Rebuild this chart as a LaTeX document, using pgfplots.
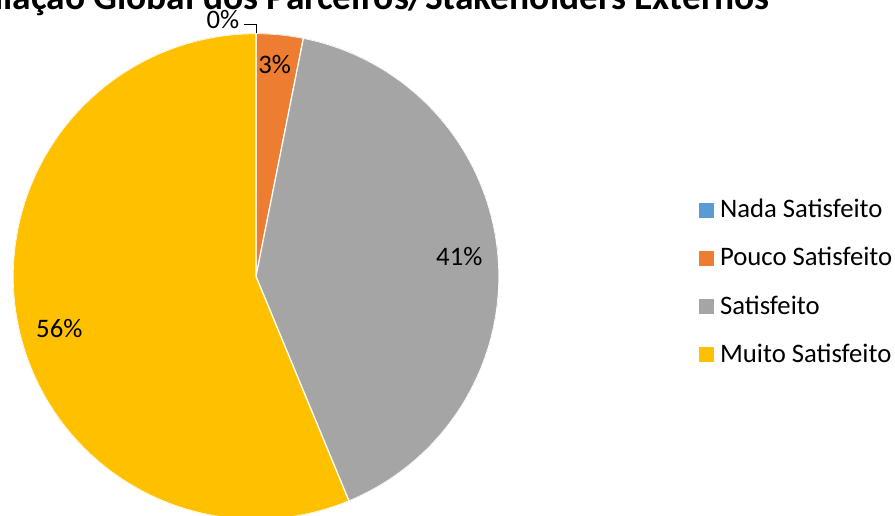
\documentclass[border=0pt]{standalone}
\usepackage{pgfplots}
\pgfplotsset{compat=1.18}
\usepgfplotslibrary{polar}
\usepackage{fontspec}
\setmainfont{Carlito}
\definecolor{cNada}{HTML}{5B9BD5}
\definecolor{cPouco}{HTML}{ED7D31}
\definecolor{cSat}{HTML}{A5A5A5}
\definecolor{cMuito}{HTML}{FFC000}
\begin{document}
\begin{tikzpicture}[x=0.5bp,y=0.5bp]
\useasboundingbox (0,0) rectangle (895,516);
\clip (0,0) rectangle (895,516);
% data (percent of answers)
\def\vNada{0}
\def\vPouco{3.125}
\def\vSat{40.625}
\def\vMuito{56.25}
\pgfmathsetmacro\aA{90-3.6*\vNada}
\pgfmathsetmacro\aB{\aA-3.6*\vPouco}
\pgfmathsetmacro\aC{\aB-3.6*\vSat}
\pgfmathsetmacro\aD{\aC-3.6*\vMuito}
\begin{polaraxis}[at={(128bp,119.75bp)}, anchor=center, scale only axis,
  width=243bp, height=243bp, hide axis, ymin=0, ymax=1, xmin=0, xmax=360]
\addplot[fill=cPouco, draw=white, line width=0.6bp, domain=\aB:\aA, samples=20] {1} -- (axis cs:0,0) -- cycle;
\addplot[fill=cSat, draw=white, line width=0.6bp, domain=\aC:\aB, samples=120] {1} -- (axis cs:0,0) -- cycle;
\addplot[fill=cMuito, draw=white, line width=0.6bp, domain=\aD:\aC, samples=150] {1} -- (axis cs:0,0) -- cycle;
\end{polaraxis}
% title
\node[anchor=base east, inner sep=0, font=\bfseries\fontsize{18.8pt}{22pt}\selectfont] at (770,506.5) {Avaliação Global dos Parceiros/Stakeholders Externos};
% data labels
\begin{scope}[every node/.style={inner sep=0, font=\fontsize{13.4pt}{16pt}\selectfont}]
\node at (223,496.7) {0\%};
\draw[line width=0.5bp] (244,491) -- (256,491) -- (256,482.5);
\node at (274.6,451.7) {3\%};
\node at (459.3,259.3) {41\%};
\node at (59.3,187.7) {56\%};
% legend
\fill[cNada] (699,298.3) rectangle (714,313.3);
\node[anchor=base west] at (719.7,298.3) {Nada Satisfeito};
\fill[cPouco] (699,250.1) rectangle (714,265.1);
\node[anchor=base west] at (719.7,250.1) {Pouco Satisfeito};
\fill[cSat] (699,201.9) rectangle (714,216.9);
\node[anchor=base west] at (719.7,201.9) {Satisfeito};
\fill[cMuito] (699,153.7) rectangle (714,168.7);
\node[anchor=base west] at (719.7,153.7) {Muito Satisfeito};
\end{scope}
\end{tikzpicture}
\end{document}
